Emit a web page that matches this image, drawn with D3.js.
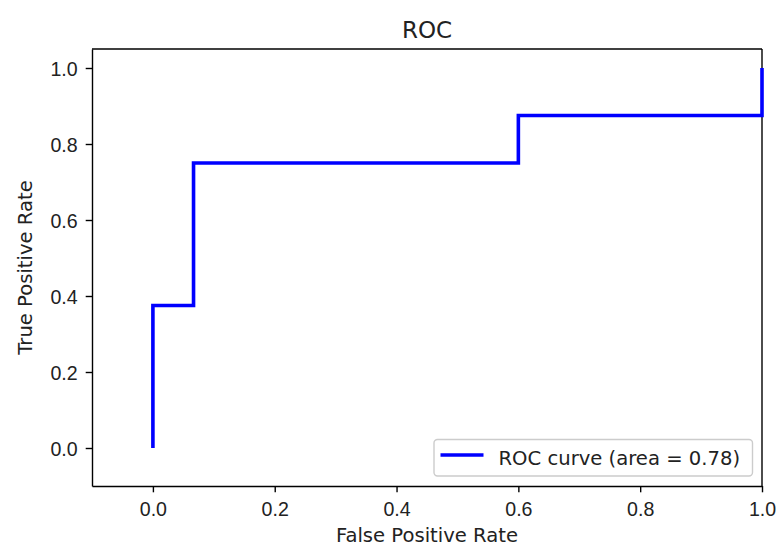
<!DOCTYPE html>
<html>
<head>
<meta charset="utf-8">
<script src="https://cdn.jsdelivr.net/npm/d3@7"></script>
<style>
  body { margin: 0; background: #fff; }
  svg { display: block; font-family: "DejaVu Sans", sans-serif; }
  .eje text { font-size: 19.6px; fill: #222; }
  .eje line, .eje path { stroke: #000; stroke-width: 1.4px; }
</style>
</head>
<body>
<div id="graf"></div>
<script>
// datos de la curva ROC
fpr = [0, 0, 0.0667, 0.0667, 0.6, 0.6, 1, 1]
tpr = [0, 0.375, 0.375, 0.75, 0.75, 0.875, 0.875, 1]
xTicks = [0.0, 0.2, 0.4, 0.6, 0.8, 1.0]
yTicks = [0.0, 0.2, 0.4, 0.6, 0.8, 1.0]
etiquetaLeyenda = 'ROC curve (area = 0.78)'

ancho_total = 777
alto_total = 547
margins = { top: 49, left: 92, right: 15, bottom: 61 }
ancho = ancho_total - margins.left - margins.right
alto = alto_total - margins.top - margins.bottom

svg = d3.select('#graf').append('svg')
        .attr('width', ancho_total)
        .attr('height', alto_total)

g = svg.append('g')
       .attr('transform', `translate(${ margins.left }, ${ margins.top })`)

x = d3.scaleLinear().domain([-0.1, 1.0]).range([0, ancho])
y = d3.scaleLinear().domain([-0.1, 1.05]).range([alto, 0])

// ejes
xAxisGroup = g.append('g')
              .attr('class', 'eje')
              .attr('transform', `translate(0, ${ alto })`)
              .call(d3.axisBottom(x).tickValues(xTicks).tickFormat(d3.format('.1f'))
                      .tickSize(6.3).tickPadding(10).tickSizeOuter(0))
yAxisGroup = g.append('g')
              .attr('class', 'eje')
              .call(d3.axisLeft(y).tickValues(yTicks).tickFormat(d3.format('.1f'))
                      .tickSize(6.3).tickPadding(8).tickSizeOuter(0))
yAxisGroup.selectAll('text').attr('dy', '0.4em')

// marco
g.append('line').attr('x1', 0).attr('x2', ancho).attr('y1', 0).attr('y2', 0)
 .attr('stroke', '#000').attr('stroke-width', 1.4)
g.append('line').attr('x1', ancho).attr('x2', ancho).attr('y1', 0).attr('y2', alto)
 .attr('stroke', '#000').attr('stroke-width', 1.4)

// curva
puntos = fpr.map((d, i) => [d, tpr[i]])
linea = d3.line().x(d => x(d[0])).y(d => y(d[1]))
g.append('path')
 .datum(puntos)
 .attr('d', linea)
 .attr('fill', 'none')
 .attr('stroke', '#0000ff')
 .attr('stroke-width', 3.6)

// títulos
svg.append('text')
   .attr('x', margins.left + ancho / 2).attr('y', 37.5)
   .attr('text-anchor', 'middle')
   .style('font-size', '23px').style('fill', '#222')
   .text('ROC')
svg.append('text')
   .attr('x', margins.left + ancho / 2).attr('y', 542)
   .attr('text-anchor', 'middle')
   .style('font-size', '19.6px').style('fill', '#222')
   .text('False Positive Rate')
svg.append('text')
   .attr('transform', `translate(32, ${ margins.top + alto / 2 }) rotate(-90)`)
   .attr('text-anchor', 'middle')
   .style('font-size', '19.6px').style('fill', '#222')
   .text('True Positive Rate')

// leyenda
leyenda = svg.append('g').attr('transform', 'translate(434, 439.5)')
leyenda.append('rect')
       .attr('width', 318.5).attr('height', 36.5)
       .attr('rx', 3.5)
       .attr('fill', '#fff').attr('fill-opacity', 0.8)
       .attr('stroke', '#ccc').attr('stroke-width', 1.4)
leyenda.append('line')
       .attr('x1', 6.5).attr('x2', 49.5).attr('y1', 15.5).attr('y2', 15.5)
       .attr('stroke', '#0000ff').attr('stroke-width', 3.6)
leyenda.append('text')
       .attr('x', 64.5).attr('y', 25)
       .style('font-size', '19.6px').style('fill', '#222')
       .text(etiquetaLeyenda)
</script>
</body>
</html>
